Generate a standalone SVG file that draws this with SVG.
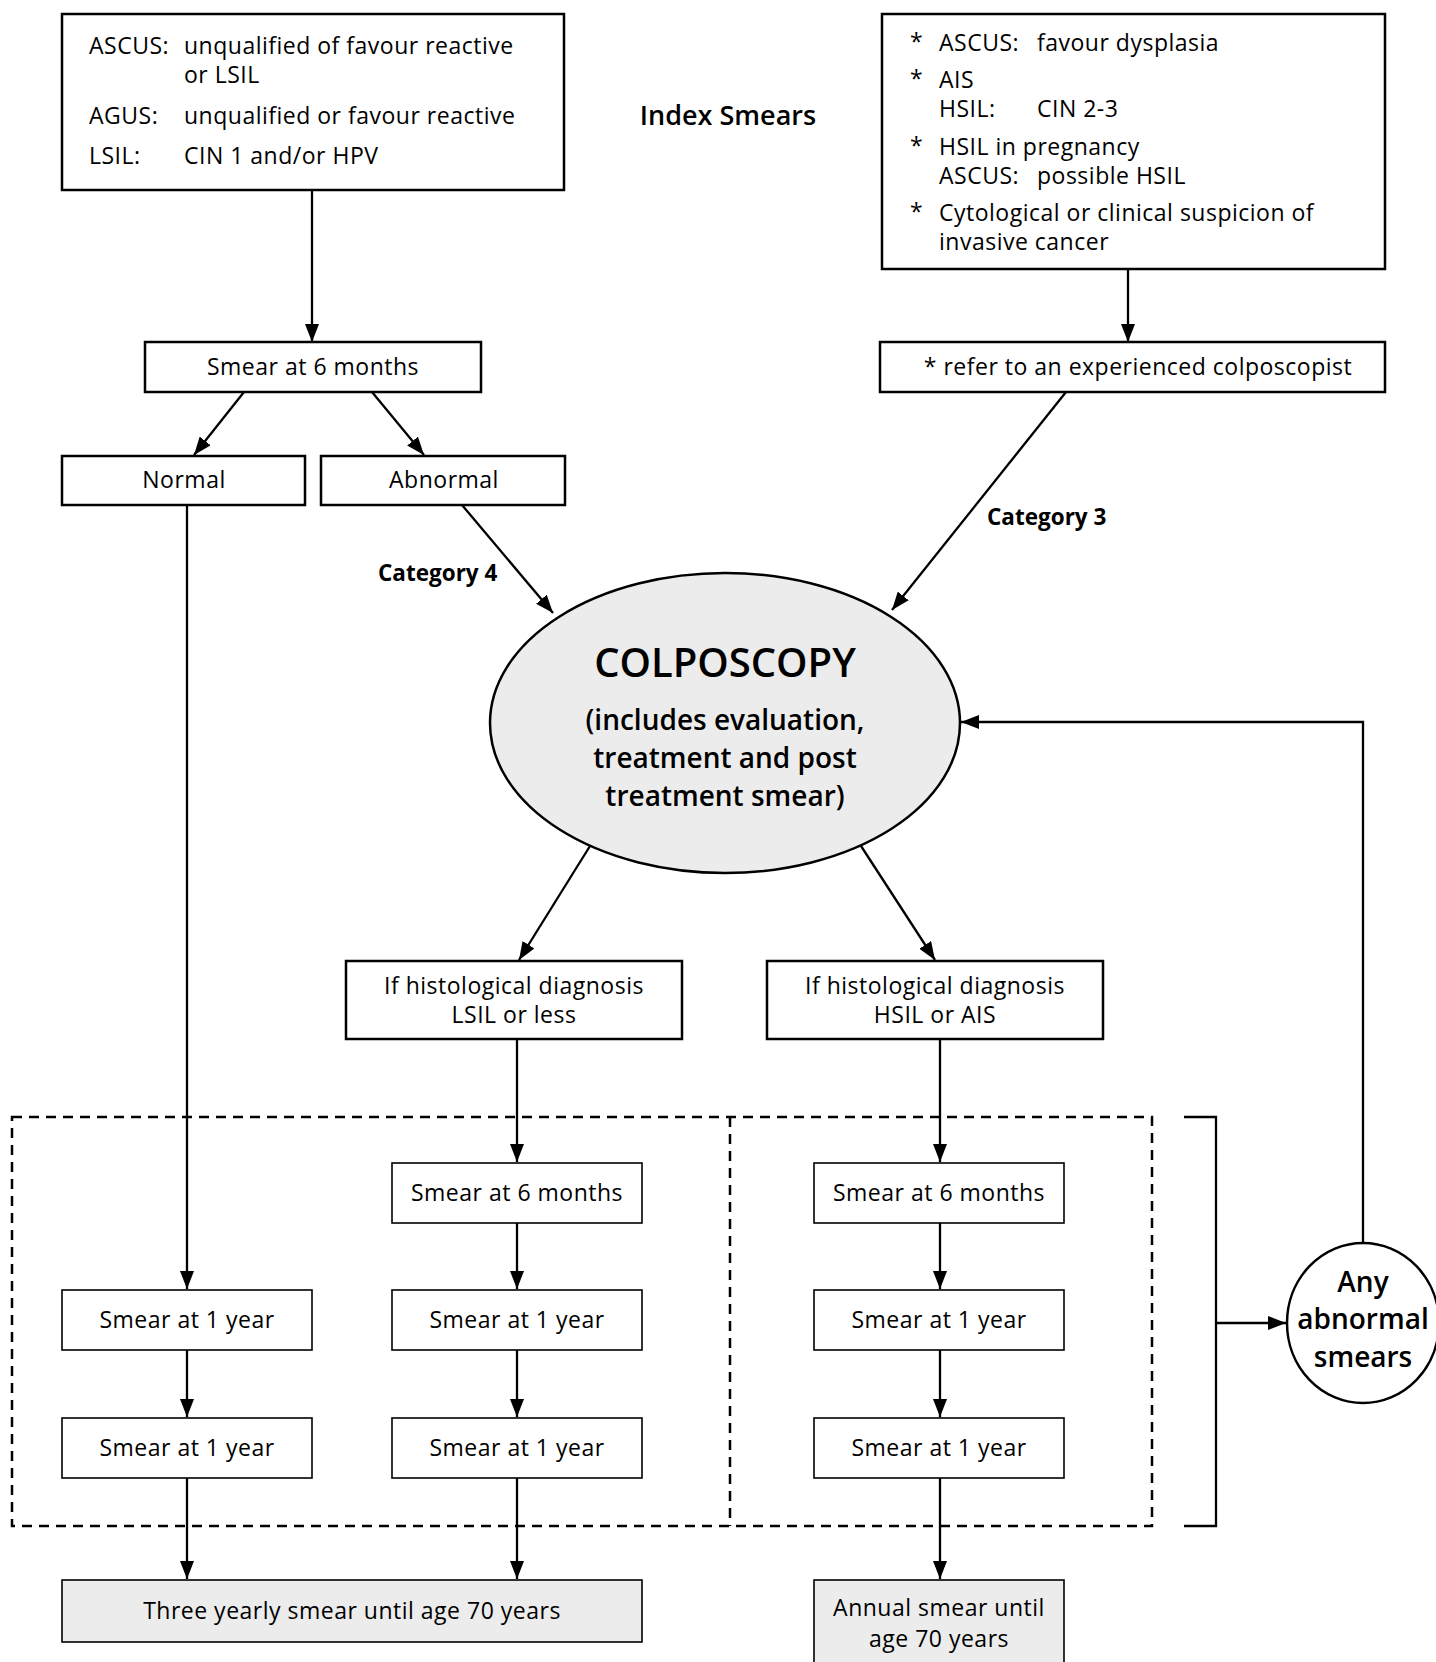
<svg xmlns="http://www.w3.org/2000/svg" width="1436" height="1662" viewBox="0 0 1436 1662">
<style>
text{font-family:"Open Sans","Liberation Sans",sans-serif;fill:#000;}
.t{font-size:23px;letter-spacing:0.5px;}
.c{text-anchor:middle;}
.b{font-weight:bold;}
.sb{font-weight:600;}
.box{fill:#fff;stroke:#000;stroke-width:2.5;}
.sbox{fill:#fff;stroke:#000;stroke-width:1.6;}
.gbox{fill:#ececec;stroke:#000;stroke-width:1.6;}
.ln{fill:none;stroke:#000;stroke-width:2.3;}
.dash{fill:none;stroke:#000;stroke-width:2.5;stroke-dasharray:10 7;}
</style>
<defs>
<marker id="ah" markerUnits="userSpaceOnUse" markerWidth="18" markerHeight="14" refX="18" refY="7" orient="auto">
<path d="M0,0 L18,7 L0,14 z" fill="#000"/>
</marker>
</defs>
<rect width="1436" height="1662" fill="#fff"/>

<g id="index-smears"><text class="c sb" x="728" y="125" style="font-size:27px">Index Smears</text></g>

<g id="boxA">
<rect class="box" x="62" y="14" width="502" height="176"/>
<text class="t" x="89" y="54">ASCUS:</text><text class="t" x="184" y="54">unqualified of favour reactive</text>
<text class="t" x="184" y="83">or LSIL</text>
<text class="t" x="89" y="124">AGUS:</text><text class="t" x="184" y="124">unqualified or favour reactive</text>
<text class="t" x="89" y="164">LSIL:</text><text class="t" x="184" y="164">CIN 1 and/or HPV</text>
</g>

<g id="boxB">
<rect class="box" x="882" y="14" width="503" height="255"/>
<text class="t" x="910" y="50">*</text><text class="t" x="939" y="51">ASCUS:</text><text class="t" x="1037" y="51">favour dysplasia</text>
<text class="t" x="910" y="87">*</text><text class="t" x="939" y="88">AIS</text>
<text class="t" x="939" y="117">HSIL:</text><text class="t" x="1037" y="117">CIN 2-3</text>
<text class="t" x="910" y="154">*</text><text class="t" x="939" y="155">HSIL in pregnancy</text>
<text class="t" x="939" y="184">ASCUS:</text><text class="t" x="1037" y="184">possible HSIL</text>
<text class="t" x="910" y="220">*</text><text class="t" x="939" y="221">Cytological or clinical suspicion of</text>
<text class="t" x="939" y="250">invasive cancer</text>
</g>

<g id="smear6-top">
<rect class="box" x="145" y="342" width="336" height="50"/>
<text class="t c" x="313" y="375">Smear at 6 months</text>
</g>

<g id="refer">
<rect class="box" x="880" y="342" width="505" height="50"/>
<text class="t c" x="1138" y="375">* refer to an experienced colposcopist</text>
</g>

<g id="normal">
<rect class="box" x="62" y="456" width="243" height="49"/>
<text class="t c" x="184" y="488">Normal</text>
</g>

<g id="abnormal">
<rect class="box" x="321" y="456" width="244" height="49"/>
<text class="t c" x="444" y="488">Abnormal</text>
</g>

<g id="colposcopy">
<ellipse cx="725" cy="723" rx="235" ry="150" fill="#ececec" stroke="#000" stroke-width="2.5"/>
<text class="c sb" x="725" y="677" style="font-size:40px">COLPOSCOPY</text>
<text class="c sb" x="725" y="730" style="font-size:28px">(includes evaluation,</text>
<text class="c sb" x="725" y="768" style="font-size:28px">treatment and post</text>
<text class="c sb" x="725" y="806" style="font-size:28px">treatment smear)</text>
</g>

<g id="hist-lsil">
<rect class="box" x="346" y="961" width="336" height="78"/>
<text class="t c" x="514" y="994">If histological diagnosis</text>
<text class="t c" x="514" y="1023">LSIL or less</text>
</g>

<g id="hist-hsil">
<rect class="box" x="767" y="961" width="336" height="78"/>
<text class="t c" x="935" y="994">If histological diagnosis</text>
<text class="t c" x="935" y="1023">HSIL or AIS</text>
</g>

<g id="groups">
<rect class="dash" x="12" y="1117" width="1140" height="409"/>
<line class="dash" x1="730" y1="1117" x2="730" y2="1526"/>
</g>

<g id="L1"><rect class="sbox" x="62" y="1290" width="250" height="60"/><text class="t c" x="187" y="1328">Smear at 1 year</text></g>
<g id="L2"><rect class="sbox" x="62" y="1418" width="250" height="60"/><text class="t c" x="187" y="1456">Smear at 1 year</text></g>
<g id="M0"><rect class="sbox" x="392" y="1163" width="250" height="60"/><text class="t c" x="517" y="1201">Smear at 6 months</text></g>
<g id="M1"><rect class="sbox" x="392" y="1290" width="250" height="60"/><text class="t c" x="517" y="1328">Smear at 1 year</text></g>
<g id="M2"><rect class="sbox" x="392" y="1418" width="250" height="60"/><text class="t c" x="517" y="1456">Smear at 1 year</text></g>
<g id="R0"><rect class="sbox" x="814" y="1163" width="250" height="60"/><text class="t c" x="939" y="1201">Smear at 6 months</text></g>
<g id="R1"><rect class="sbox" x="814" y="1290" width="250" height="60"/><text class="t c" x="939" y="1328">Smear at 1 year</text></g>
<g id="R2"><rect class="sbox" x="814" y="1418" width="250" height="60"/><text class="t c" x="939" y="1456">Smear at 1 year</text></g>

<g id="three-yearly"><rect class="gbox" x="62" y="1580" width="580" height="62"/><text class="t c" x="352" y="1619">Three yearly smear until age 70 years</text></g>
<g id="annual"><rect class="gbox" x="814" y="1580" width="250" height="90"/><text class="t c" x="939" y="1616">Annual smear until</text><text class="t c" x="939" y="1647">age 70 years</text></g>

<g id="any-abnormal">
<ellipse cx="1363" cy="1323" rx="76" ry="80" fill="#fff" stroke="#000" stroke-width="2.5"/>
<text class="c sb" x="1363" y="1292" style="font-size:28px">Any</text>
<text class="c sb" x="1363" y="1329" style="font-size:28px">abnormal</text>
<text class="c sb" x="1363" y="1367" style="font-size:28px">smears</text>
</g>

<g id="labels">
<text class="b" x="378" y="581" style="font-size:22.5px">Category 4</text>
<text class="b" x="987" y="525" style="font-size:22.5px">Category 3</text>
</g>

<g id="connectors">
<line class="ln" x1="312" y1="190" x2="312" y2="342" marker-end="url(#ah)"/>
<line class="ln" x1="1128" y1="269" x2="1128" y2="342" marker-end="url(#ah)"/>
<line class="ln" x1="244" y1="392" x2="194" y2="455" marker-end="url(#ah)"/>
<line class="ln" x1="372" y1="392" x2="424" y2="455" marker-end="url(#ah)"/>
<line class="ln" x1="462" y1="505" x2="553" y2="613" marker-end="url(#ah)"/>
<line class="ln" x1="1066" y1="392" x2="892" y2="610" marker-end="url(#ah)"/>
<line class="ln" x1="590" y1="846" x2="519" y2="960" marker-end="url(#ah)"/>
<line class="ln" x1="861" y1="846" x2="935" y2="960" marker-end="url(#ah)"/>
<line class="ln" x1="187" y1="505" x2="187" y2="1289" marker-end="url(#ah)"/>
<line class="ln" x1="187" y1="1350" x2="187" y2="1417" marker-end="url(#ah)"/>
<line class="ln" x1="187" y1="1478" x2="187" y2="1579" marker-end="url(#ah)"/>
<line class="ln" x1="517" y1="1039" x2="517" y2="1162" marker-end="url(#ah)"/>
<line class="ln" x1="517" y1="1223" x2="517" y2="1289" marker-end="url(#ah)"/>
<line class="ln" x1="517" y1="1350" x2="517" y2="1417" marker-end="url(#ah)"/>
<line class="ln" x1="517" y1="1478" x2="517" y2="1579" marker-end="url(#ah)"/>
<line class="ln" x1="940" y1="1039" x2="940" y2="1162" marker-end="url(#ah)"/>
<line class="ln" x1="940" y1="1223" x2="940" y2="1289" marker-end="url(#ah)"/>
<line class="ln" x1="940" y1="1350" x2="940" y2="1417" marker-end="url(#ah)"/>
<line class="ln" x1="940" y1="1478" x2="940" y2="1579" marker-end="url(#ah)"/>
<polyline class="ln" points="1184,1117 1216,1117 1216,1526 1184,1526"/>
<line class="ln" x1="1216" y1="1323" x2="1286" y2="1323" marker-end="url(#ah)"/>
<polyline class="ln" points="1363,1243 1363,722 961,722" marker-end="url(#ah)"/>
</g>
</svg>
